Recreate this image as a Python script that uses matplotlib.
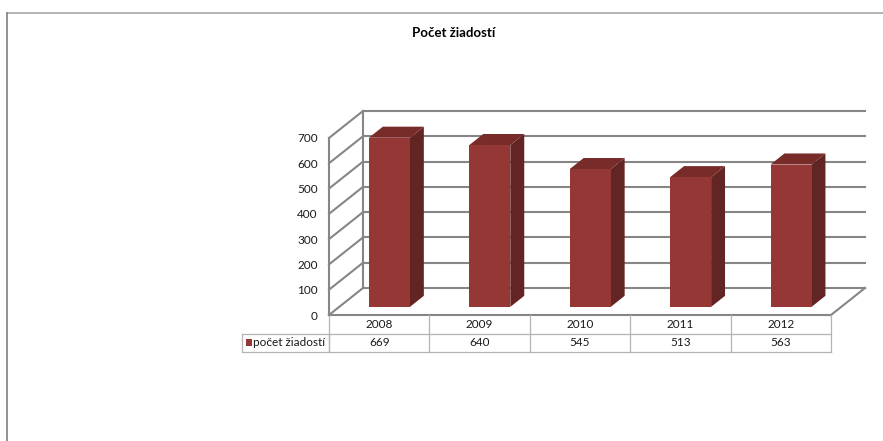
import matplotlib
matplotlib.use("Agg")
import matplotlib.pyplot as plt
from matplotlib.patches import Polygon, Rectangle
from matplotlib.lines import Line2D
import numpy as np

plt.rcParams['font.family'] = ['Lato', 'DejaVu Sans']

years = ['2008', '2009', '2010', '2011', '2012']
counts = [669, 640, 545, 513, 563]
series_name = 'počet žiadostí'
title = 'Počet žiadostí'
yticks = list(range(0, 800, 100))

W, H = 883, 441
fig = plt.figure(figsize=(W / 100, H / 100), dpi=100)

# front plane of the 3d box, in pixels
x0p, x1p, y0p, y1p = 329, 831, 315, 138
ax = fig.add_axes([x0p / W, 1 - y0p / H, (x1p - x0p) / W, (y0p - y1p) / H])
ax.set_xlim(-0.5, len(years) - 0.5)
ax.set_ylim(0, 700)
for s in ['top', 'right', 'bottom']:
    ax.spines[s].set_visible(False)
ax.spines['left'].set_color('#868686')
ax.spines['left'].set_linewidth(1.5)
ax.set_xticks([])
ax.set_yticks(yticks)
ax.tick_params(axis='y', length=0, pad=8, labelsize=8.5, labelcolor='#1a1a1a')

# unit conversions
xpp = len(years) / (x1p - x0p)      # x data units per pixel
vpp = 700 / (y0p - y1p)             # value units per pixel
DX, DY = 34 * xpp, 27 * vpp         # depth of the box
grid_c = '#868686'
glw = 1.5
n = len(years)

# back wall gridlines and side wall diagonals
for v in yticks:
    ax.plot([-0.5 + DX, n - 0.5 + DX], [v + DY, v + DY], color=grid_c, lw=glw, clip_on=False, zorder=1)
    ax.plot([-0.5, -0.5 + DX], [v, v + DY], color=grid_c, lw=glw, clip_on=False, zorder=1)
ax.plot([-0.5 + DX, -0.5 + DX], [DY, 700 + DY], color=grid_c, lw=glw, clip_on=False, zorder=1)
# floor right edge
ax.plot([n - 0.5, n - 0.5 + DX], [0, DY], color=grid_c, lw=glw, clip_on=False, zorder=1)

# bars
f0, fd, bw = 0.3, 0.41, 41 * xpp
front_c, side_c, top_c = '#953735', '#632523', '#772c2a'
for i, v in enumerate(counts):
    xl = i - bw / 2 + f0 * DX
    xr = xl + bw
    yb = f0 * DY
    yt = v + f0 * DY
    dx, dy = fd * DX, fd * DY
    ax.add_patch(Polygon([(xr, yb), (xr + dx, yb + dy), (xr + dx, yt + dy), (xr, yt)],
                         closed=True, fc=side_c, ec='none', clip_on=False, zorder=3))
    ax.add_patch(Polygon([(xl, yt), (xr, yt), (xr + dx, yt + dy), (xl + dx, yt + dy)],
                         closed=True, fc=top_c, ec='none', clip_on=False, zorder=3))
    ax.add_patch(Rectangle((xl, yb), bw, yt - yb, fc=front_c, ec='none', clip_on=False, zorder=4))

# data table
tbl_c = '#b4b4b4'
r1 = 19 * vpp
r2 = 37 * vpp
ax.plot([-0.5, n - 0.5], [0, 0], color=grid_c, lw=glw, clip_on=False, zorder=2)
for y in [-r1, -r2]:
    ax.plot([-0.5, n - 0.5], [y, y], color=tbl_c, lw=0.9, clip_on=False)
for k in range(n + 1):
    ax.plot([k - 0.5, k - 0.5], [0, -r2], color=tbl_c, lw=0.9, clip_on=False)
for i, (yr, v) in enumerate(zip(years, counts)):
    ax.text(i, -r1 / 2, yr, ha='center', va='center', fontsize=8.5, color='#1a1a1a')
    ax.text(i, -(r1 + r2) / 2, str(v), ha='center', va='center', fontsize=8.5, color='#1a1a1a')
lx = -0.5 - 87 * xpp
ax.plot([lx, -0.5, -0.5, lx, lx], [-r1, -r1, -r2, -r2, -r1], color=tbl_c, lw=0.9, clip_on=False)
ax.add_patch(Rectangle((lx + 4 * xpp, -r1 - 12 * vpp), 6 * xpp, 7 * vpp, fc=front_c, ec='none', clip_on=False))
ax.text(lx + 11 * xpp, -(r1 + r2) / 2, series_name, ha='left', va='center', fontsize=8.5, color='#1a1a1a')

# title and outer border
fig.text(454 / W, 1 - 33 / H, title, ha='center', va='center', fontsize=9.5, fontweight='bold')
fig.add_artist(Line2D([7 / W, 1], [1 - 13 / H, 1 - 13 / H], color='#a6a6a6', lw=1.2))
fig.add_artist(Line2D([7 / W, 7 / W], [1 - 13 / H, 0], color='#808080', lw=1.2))

fig.savefig('out.png', dpi=100)
